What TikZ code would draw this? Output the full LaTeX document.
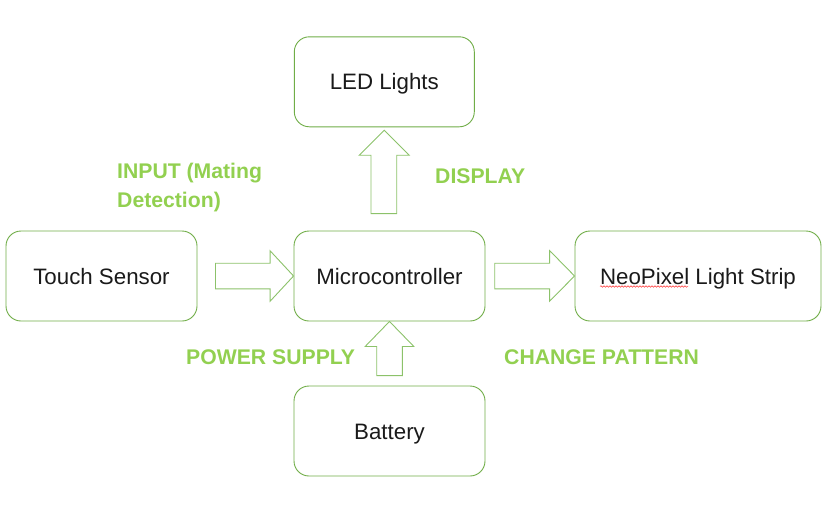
\documentclass[tikz,border=0pt]{standalone}
\usepackage{fontspec}
\setmainfont{Liberation Sans}
\usetikzlibrary{calc,decorations.pathmorphing}
\definecolor{boxgreen}{HTML}{70AD47}
\definecolor{arrgreen}{HTML}{8CC26A}
\definecolor{labgreen}{HTML}{92D050}
\definecolor{txt}{HTML}{1A1A1A}
\tikzset{
  blockbox/.style={draw=boxgreen, line width=0.9pt, rounded corners=15pt, fill=white,
    minimum height=90pt, inner sep=0pt, text=txt, text height=16pt, text depth=0pt,
    font=\fontsize{22.3}{26}\selectfont},
  blockarrow/.style={draw=arrgreen, line width=0.9pt, fill=white},
  lab/.style={text=labgreen, font=\bfseries\fontsize{21.2}{29.5}\selectfont, inner sep=0pt},
}
\begin{document}
\begin{tikzpicture}[x=1pt,y=-1pt]
\useasboundingbox (0,0) rectangle (829,506);
% boxes
\node[blockbox, minimum width=180pt] (led) at (384.3,81.8) {LED Lights};
\node[blockbox, minimum width=191pt] (touch) at (101.5,276) {Touch Sensor};
\node[blockbox, minimum width=191pt] (micro) at (389.5,276) {Microcontroller};
\node[blockbox, minimum width=246pt] (neo) at (698,276) {NeoPixel Light Strip};
\node[blockbox, minimum width=191pt] (bat) at (389.5,431) {Battery};
% spell-check underline
\coordinate (sq1) at ($(neo.center)+(-98,10.5)$);
\coordinate (sq2) at ($(neo.center)+(-10,10.5)$);
\draw[red!80, line width=0.5pt, decorate, decoration={snake, amplitude=0.8pt, segment length=3pt}] (sq1) -- (sq2);
% arrow touch -> micro
\draw[blockarrow]
  ($(touch.east)+(18,-12.8)$) -- ($(micro.west)+(-23.5,-12.8)$) -- ($(micro.west)+(-23.5,-25.3)$)
  -- (micro.west) -- ($(micro.west)+(-23.5,25.3)$) -- ($(micro.west)+(-23.5,12.8)$)
  -- ($(touch.east)+(18,12.8)$) -- cycle;
% arrow micro -> neo
\draw[blockarrow]
  ($(micro.east)+(9.3,-12.8)$) -- ($(neo.west)+(-25,-12.8)$) -- ($(neo.west)+(-25,-25.5)$)
  -- (neo.west) -- ($(neo.west)+(-25,25.2)$) -- ($(neo.west)+(-25,12.8)$)
  -- ($(micro.east)+(9.3,12.8)$) -- cycle;
% arrow battery -> micro
\draw[blockarrow]
  ($(bat.north)+(-12.8,-10)$) -- ($(micro.south)+(-12.8,25)$) -- ($(micro.south)+(-24.3,25)$)
  -- (micro.south) -- ($(micro.south)+(24.3,25)$) -- ($(micro.south)+(12.8,25)$)
  -- ($(bat.north)+(12.8,-10)$) -- cycle;
% arrow micro -> led
\coordinate (ledtip) at ($(led.south)+(0,3)$);
\draw[blockarrow]
  ($(micro.north)+(-18.5,-17)$) -- ($(ledtip)+(-13.3,25)$) -- ($(ledtip)+(-25,25)$)
  -- (ledtip) -- ($(ledtip)+(25,25)$) -- ($(ledtip)+(12.4,25)$)
  -- ($(micro.north)+(7.2,-17)$) -- cycle;
% labels
\node[lab, anchor=north west, align=left] (linput) at (117,162.5) {INPUT (Mating\\Detection)};
\node[lab, anchor=west] (ldisp) at (435,176) {DISPLAY};
\node[lab, anchor=west] (lpow) at (186,357) {POWER SUPPLY};
\node[lab, anchor=west] (lchg) at (504,357) {CHANGE PATTERN};
\end{tikzpicture}
\end{document}
